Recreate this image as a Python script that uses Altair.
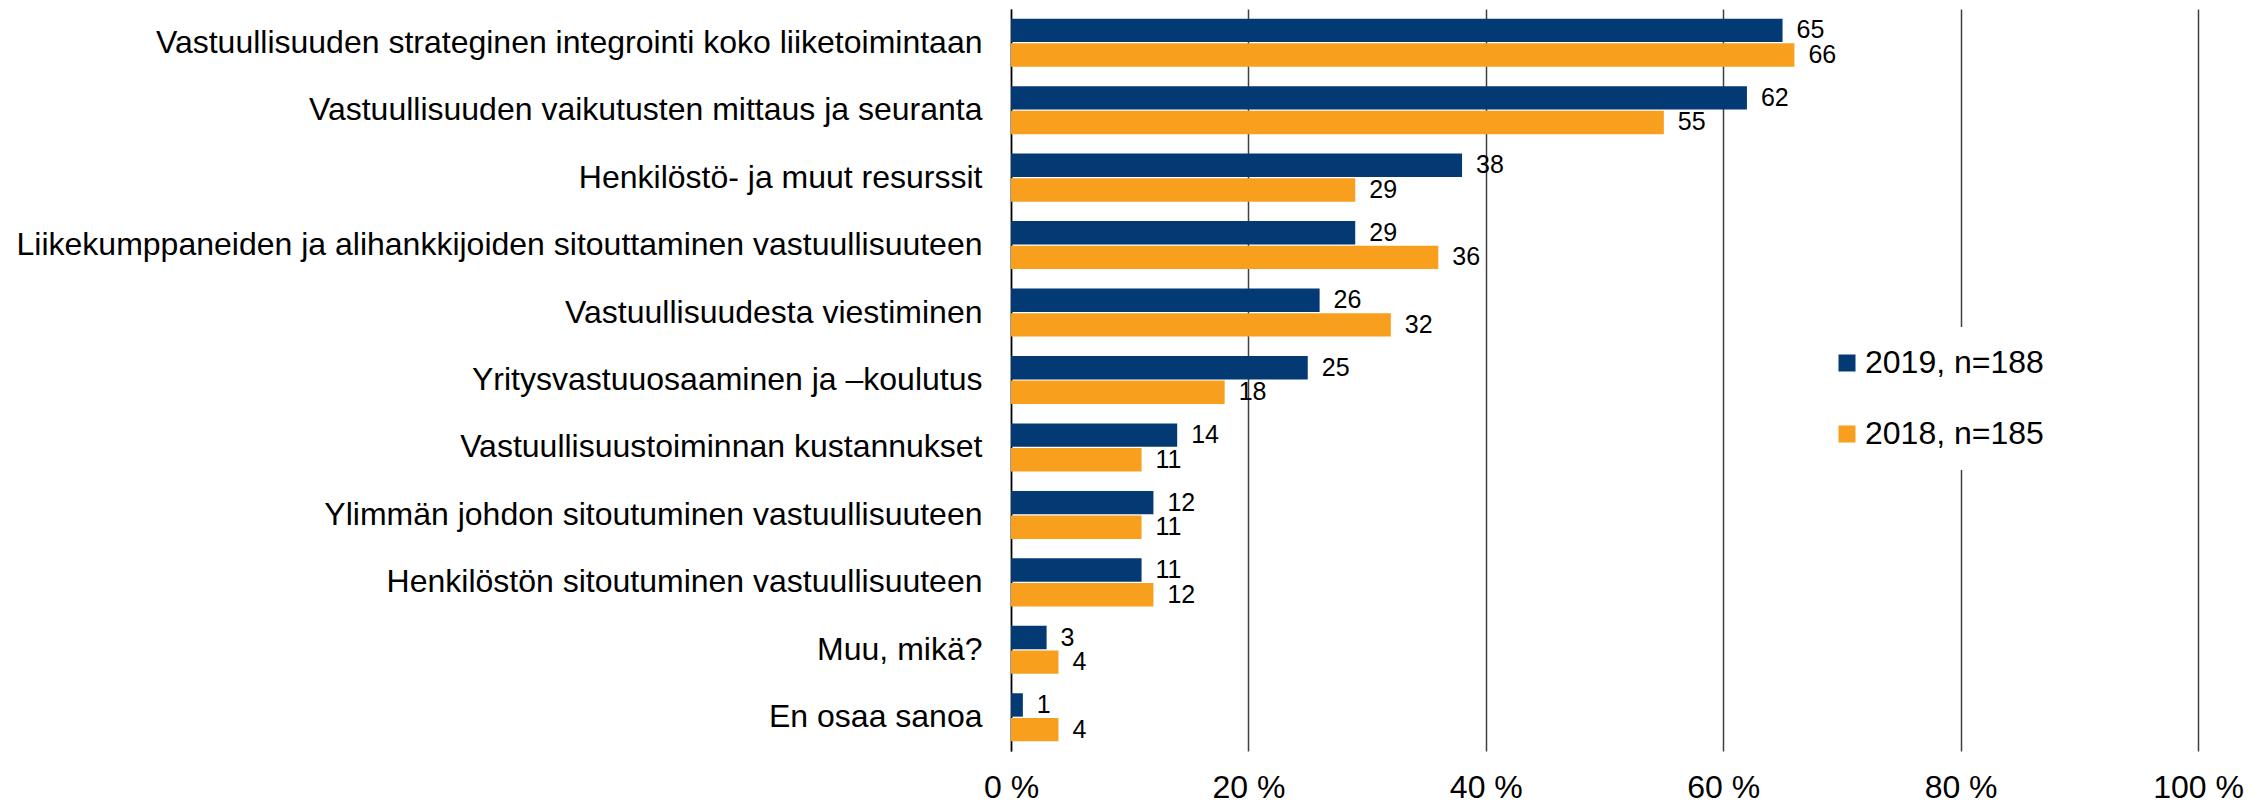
import altair as alt
import pandas as pd

categories = [
    "Vastuullisuuden strateginen integrointi koko liiketoimintaan",
    "Vastuullisuuden vaikutusten mittaus ja seuranta",
    "Henkilöstö- ja muut resurssit",
    "Liikekumppaneiden ja alihankkijoiden sitouttaminen vastuullisuuteen",
    "Vastuullisuudesta viestiminen",
    "Yritysvastuuosaaminen ja –koulutus",
    "Vastuullisuustoiminnan kustannukset",
    "Ylimmän johdon sitoutuminen vastuullisuuteen",
    "Henkilöstön sitoutuminen vastuullisuuteen",
    "Muu, mikä?",
    "En osaa sanoa",
]
values_2019 = [65, 62, 38, 29, 26, 25, 14, 12, 11, 3, 1]
values_2018 = [66, 55, 29, 36, 32, 18, 11, 11, 12, 4, 4]
series = ["2019, n=188", "2018, n=185"]
colors = ["#033A73", "#F99F1E"]
x_ticks = [0, 20, 40, 60, 80, 100]

rows = []
for c, a, b in zip(categories, values_2019, values_2018):
    rows.append({"cat": c, "series": series[0], "value": a})
    rows.append({"cat": c, "series": series[1], "value": b})
df = pd.DataFrame(rows)

FONT = "Liberation Sans"

y_enc = alt.Y(
    "cat:N",
    sort=categories,
    scale=alt.Scale(paddingInner=0.288, paddingOuter=0.144),
    axis=alt.Axis(
        title=None,
        ticks=False,
        labelPadding=29,
        labelFontSize=32,
        labelFont=FONT,
        labelColor="#000000",
        labelLimit=1000,
        domainColor="#000000",
        domainWidth=1.5,
        grid=False,
    ),
)
yoff = alt.YOffset("series:N", sort=series, scale=alt.Scale(paddingInner=0.05, paddingOuter=0))
x_enc = alt.X(
    "value:Q",
    scale=alt.Scale(domain=[0, 100], nice=False, zero=True),
    axis=alt.Axis(
        title=None,
        values=x_ticks,
        ticks=False,
        domain=False,
        labelPadding=21,
        labelFontSize=32,
        labelFont=FONT,
        labelColor="#000000",
        labelFlush=False,
        labelOverlap=False,
        labelExpr="datum.value + ' %'",
        grid=True,
        gridColor="#404040",
        gridWidth=1.5,
    ),
)

bars = alt.Chart(df).mark_bar().encode(
    x=x_enc,
    y=y_enc,
    yOffset=yoff,
    color=alt.Color(
        "series:N",
        sort=series,
        scale=alt.Scale(domain=series, range=colors),
        legend=alt.Legend(
            title=None,
            orient="none",
            legendX=800,
            legendY=318,
            direction="vertical",
            symbolType="square",
            symbolSize=289,
            symbolStrokeWidth=0,
            symbolOpacity=1,
            labelFontSize=32,
            labelFont=FONT,
            labelColor="#000000",
            labelLimit=1000,
            labelOffset=2,
            rowPadding=39,
            padding=20,
            fillColor="white",
        ),
    ),
)

labels = alt.Chart(df).mark_text(
    align="left", baseline="middle", dx=14, fontSize=25, font=FONT, color="#000000"
).encode(
    x=alt.X("value:Q"),
    y=alt.Y("cat:N", sort=categories),
    yOffset=alt.YOffset("series:N", sort=series),
    text=alt.Text("value:Q"),
)

chart = (
    alt.layer(bars, labels)
    .properties(
        width=1187,
        height=742,
        autosize=alt.AutoSizeParams(type="none"),
        padding={"left": 1003, "top": 1, "right": 58, "bottom": 54},
        background="white",
    )
    .configure_view(stroke=None)
)

chart.save("out.html", embed_options={"renderer": "svg", "actions": False})
